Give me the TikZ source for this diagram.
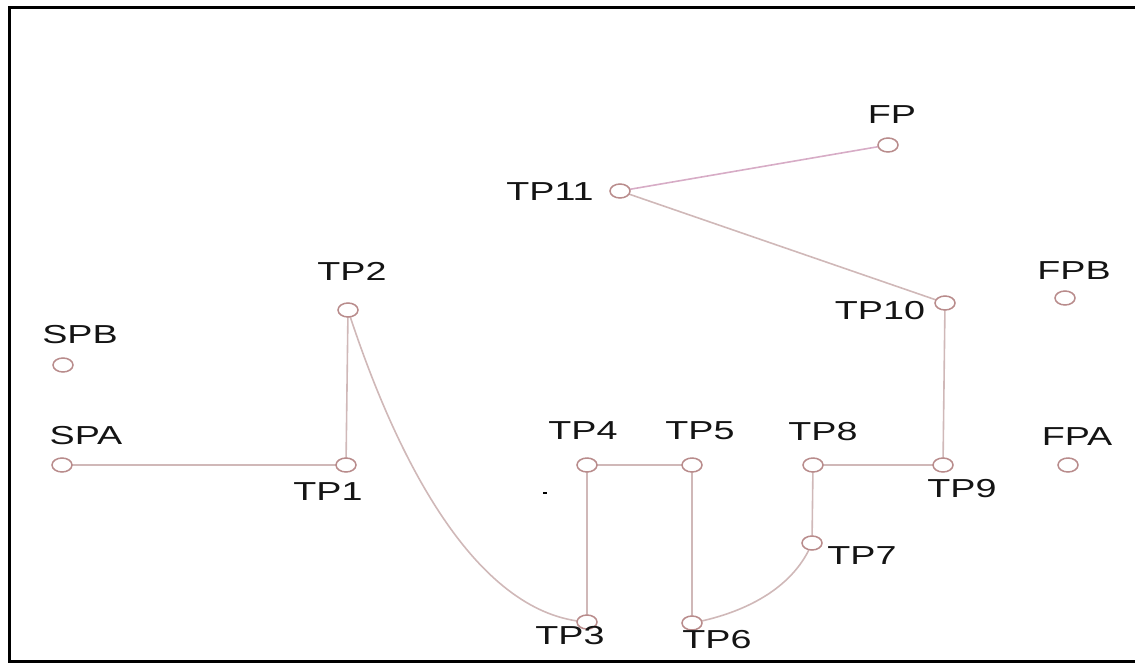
\documentclass[tikz,border=0pt]{standalone}
\usepackage{fontspec}
\setmainfont{Liberation Sans}
\usetikzlibrary{shapes.geometric}
\definecolor{edgec}{RGB}{208,184,184}
\definecolor{pinkc}{RGB}{215,172,198}
\definecolor{nodec}{RGB}{185,140,140}
\definecolor{txtc}{RGB}{20,20,20}
\tikzset{
  pt/.style={ellipse,draw=nodec,line width=1.5pt,fill=white,minimum width=20pt,minimum height=14pt,inner sep=0pt},
  lbl/.style={text=txtc,font=\fontsize{26}{26}\selectfont,xscale=1.45,inner sep=0pt},
  conn/.style={draw=edgec,line width=1.6pt},
  frame/.style={draw=black,line width=3pt}
}
\begin{document}
\begin{tikzpicture}[x=1pt,y=-1pt]
\useasboundingbox (0,0) rectangle (1135,664);
\draw[frame] (1135,7) -- (9,7) -- (9,661) -- (1135,661);
\coordinate (cSPA) at (62,465);
\coordinate (cSPB) at (63,365);
\coordinate (cTP1) at (346,465);
\coordinate (cTP2) at (348,310);
\coordinate (cTP3) at (587,622);
\coordinate (cTP4) at (587,465);
\coordinate (cTP5) at (692,465);
\coordinate (cTP6) at (692,623);
\coordinate (cTP7) at (812,543);
\coordinate (cTP8) at (813,465);
\coordinate (cTP9) at (943,465);
\coordinate (cTP10) at (945,303);
\coordinate (cTP11) at (620,191);
\coordinate (cFP) at (888,145);
\coordinate (cFPA) at (1068,465);
\coordinate (cFPB) at (1065,298);
\draw[conn] (cSPA) -- (cTP1);
\draw[conn] (cTP1) -- (cTP2);
\draw[conn] (cTP2) .. controls (400,470) and (480,615) .. (cTP3);
\draw[conn] (cTP3) -- (cTP4);
\draw[conn] (cTP4) -- (cTP5);
\draw[conn] (cTP5) -- (cTP6);
\draw[conn] (cTP6) .. controls (750,612) and (795,585) .. (cTP7);
\draw[conn] (cTP7) -- (cTP8);
\draw[conn] (cTP8) -- (cTP9);
\draw[conn] (cTP9) -- (cTP10);
\draw[conn] (cTP10) -- (cTP11);
\draw[conn,draw=pinkc] (cTP11) -- (cFP);
\foreach \n in {SPA,SPB,TP1,TP2,TP3,TP4,TP5,TP6,TP7,TP8,TP9,TP10,TP11,FP,FPA,FPB}
  \node[pt] (\n) at (c\n) {};
\node[lbl] (lSPB) at (80,335) {SPB};
\node[lbl] (lSPA) at (86,436) {SPA};
\node[lbl] (lTP2) at (352,271) {TP2};
\node[lbl] (lTP1) at (328,492) {TP1};
\node[lbl] (lTP4) at (583,431) {TP4};
\node[lbl] (lTP5) at (700,431) {TP5};
\node[lbl] (lTP3) at (570,636) {TP3};
\node[lbl] (lTP6) at (717,640) {TP6};
\node[lbl] (lTP8) at (823,432) {TP8};
\node[lbl] (lTP9) at (962,489) {TP9};
\node[lbl] (lFPA) at (1077,437) {FPA};
\node[lbl] (lTP7) at (862,556) {TP7};
\node[lbl] (lTP10) at (880,311) {TP10};
\node[lbl] (lFPB) at (1074,271) {FPB};
\node[lbl] (lTP11) at (550,192) {TP11};
\node[lbl] (lFP) at (892,115) {FP};
\draw[black,line width=1.2pt] (543,493) -- (547,493);
\end{tikzpicture}
\end{document}
